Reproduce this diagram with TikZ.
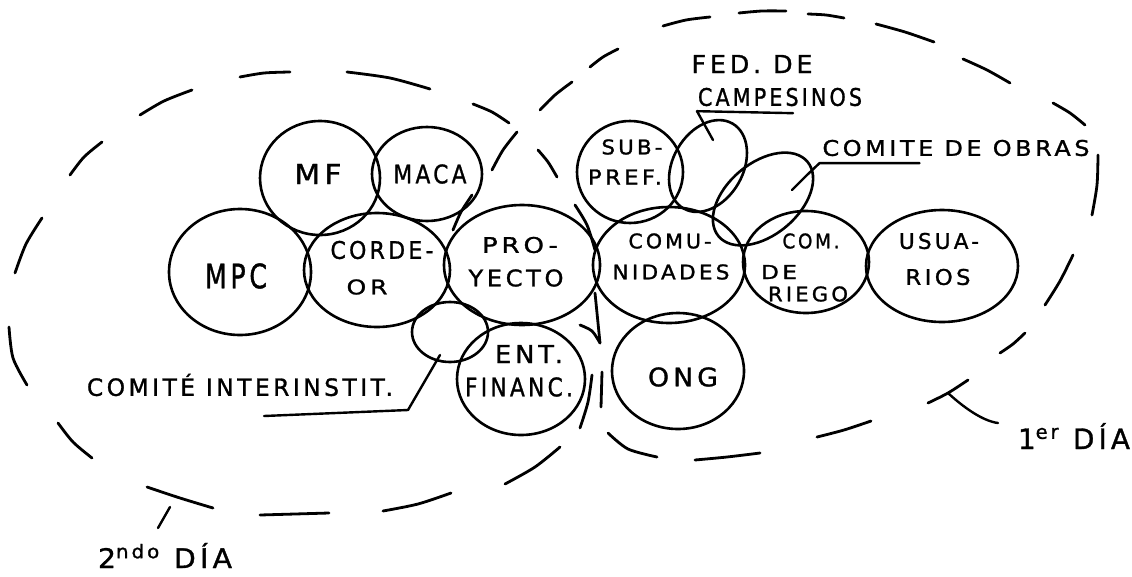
\documentclass[tikz,border=0pt]{standalone}
\usepackage{fontspec}
\setmainfont{DejaVu Sans}
\newfontfamily\hand[LetterSpace=15,FakeBold=1.2]{DejaVu Sans}
\usepackage{graphicx}
\usetikzlibrary{shapes.geometric,calc}
\newcommand\fitt[3]{\resizebox{#1pt}{#2pt}{\hand #3}}
\newcommand\fitw[2]{\resizebox{#1pt}{!}{\hand #2}}
\begin{document}
\begin{tikzpicture}[x=1pt,y=-1pt,
  ring/.style={draw, ellipse, line width=2.6pt, inner sep=0pt, outer sep=0pt},
  dsh/.style={line width=2.8pt, line cap=round},
  lbl/.style={inner sep=0pt, outer sep=0pt},
  lead/.style={line width=2.4pt, line cap=round, line join=round}]
\fill[white] (0,0) rectangle (1132,576);
\useasboundingbox (0,0) rectangle (1132,576);

% ---- circles ----
\node[ring, minimum width=120pt, minimum height=114pt] (mf)   at (320,178) {};
\node[ring, minimum width=110pt, minimum height=94pt]  (maca) at (427,174) {};
\node[ring, minimum width=142pt, minimum height=126pt] (mpc)  at (240,272) {};
\node[ring, minimum width=146pt, minimum height=114pt] (cord) at (377,270) {};
\node[ring, minimum width=156pt, minimum height=120pt] (proy) at (522,265) {};
\node[ring, minimum width=76pt,  minimum height=60pt]  (cint) at (450,332) {};
\node[ring, minimum width=128pt, minimum height=112pt] (ent)  at (521,379) {};
\node[ring, minimum width=152pt, minimum height=116pt] (comu) at (669,265) {};
\node[ring, minimum width=106pt, minimum height=102pt] (subp) at (630,172) {};
\node[ring, minimum width=98pt,  minimum height=70pt, rotate=60] (fed)  at (708,166) {};
\node[ring, minimum width=116pt, minimum height=72pt, rotate=40] (obr)  at (763,199) {};
\node[ring, minimum width=126pt, minimum height=102pt] (rieg) at (806,262) {};
\node[ring, minimum width=152pt, minimum height=112pt] (usu)  at (942,266) {};
\node[ring, minimum width=132pt, minimum height=116pt] (ong)  at (678,371) {};

% ---- labels ----
\node[lbl] (tmf)   at (318,174) {\fitt{47}{20}{MF}};
\node[lbl] (tmaca) at (430,174) {\fitt{73}{19}{MACA}};
\node[lbl] (tmpc)  at (236,276) {\fitt{62}{25}{MPC}};
\node[lbl] (tcor1) at (382,250) {\fitt{103}{18}{CORDE-}};
\node[lbl] (tcor2) at (367,287) {\fitt{41}{15}{OR}};
\node[lbl] (tpro1) at (520,245) {\fitt{76}{16}{PRO-}};
\node[lbl] (tpro2) at (516,278) {\fitt{95}{17}{YECTO}};
\node[lbl] (tent1) at (529,354) {\fitt{68}{18}{ENT.}};
\node[lbl] (tent2) at (519,387) {\fitt{108}{19}{FINANC.}};
\node[lbl] (tcom1) at (670,241) {\fitt{83}{15}{COMU-}};
\node[lbl] (tcom2) at (671,272) {\fitt{117}{15}{NIDADES}};
\node[lbl] (tsub1) at (632,147) {\fitt{61}{15}{SUB-}};
\node[lbl] (tsub2) at (625,177) {\fitt{74}{15}{PREF.}};
\node[lbl] (trie1) at (811,241) {\fitt{57}{15}{COM.}};
\node[lbl] (trie2) at (779,272) {\fitt{36}{14}{DE}};
\node[lbl] (trie3) at (808,294) {\fitt{80}{15}{RIEGO}};
\node[lbl] (tusu1) at (939,241) {\fitt{80}{16}{USUA-}};
\node[lbl] (tusu2) at (938,277) {\fitt{65}{16}{RIOS}};
\node[lbl] (tong)  at (683,377) {\fitt{70}{19}{ONG}};
\node[lbl] (tfed)  at (752,64)  {\fitt{121}{18}{FED. DE}};
\node[lbl] (tcamp) at (780,97)  {\fitt{164}{18}{CAMPESINOS}};
\node[lbl] (tobr)  at (956,148) {\fitt{267}{16}{COMITE DE OBRAS}};
\node[lbl] (tci)   at (240,385) {\fitt{306}{22}{COMITÉ INTERINSTIT.}};
\node[lbl, anchor=base west] (tdos) at (98,568)  {\fitt{134}{25}{2\textsuperscript{ndo} DÍA}};
\node[lbl, anchor=base west] (tuno) at (1018,449) {\fitt{112}{26}{1\textsuperscript{er} DÍA}};

% ---- leaders ----
\coordinate (fedin) at (713,140);
\draw[lead] (fedin) -- ($(tcamp.south west)+(-1,5)$) -- ++(96,2);
\coordinate (obrin) at (792,190);
\draw[lead] (obrin) -- (807,175) -- ($(tobr.south west)+(-3,7)$) -- ++(100,0);
\coordinate (ciin) at (440,355);
\coordinate (ciend) at (264,416);
\draw[lead] (ciin) -- (408,410) -- (ciend);
\coordinate (dosa) at (158,528);
\coordinate (dosb) at (170,507);
\draw[lead] (dosa) -- (dosb);
\coordinate (unoa) at (948,393);
\coordinate (unob) at (998,423);
\draw[lead] (unoa) .. controls (962,406) and (982,421) .. (unob);

% ---- dashed ellipse: 2ndo dia ----
\draw[dsh] plot[smooth] coordinates {(9,327) (13,358) (27,385)};
\draw[dsh] plot[smooth] coordinates {(15,273) (26,244) (42,218)};
\draw[dsh] plot[smooth] coordinates {(70,175) (84,157) (102,142)};
\draw[dsh] plot[smooth] coordinates {(140,115) (164,101) (192,90)};
\draw[dsh] plot[smooth] coordinates {(240,77) (264,73) (290,72)};
\draw[dsh] plot[smooth] coordinates {(347,72) (390,78) (430,89)};
\draw[dsh] plot[smooth] coordinates {(473,104) (492,112) (509,123)};
\draw[dsh] plot[smooth] coordinates {(538,150) (548,162) (557,177)};
\draw[dsh] plot[smooth] coordinates {(575,205) (587,225) (595,250)};
\draw[dsh] (595,293) -- (600,343);
\draw[dsh] plot[smooth] coordinates {(580,325) (592,331) (600,343)};
\draw[dsh] plot[smooth] coordinates {(592,375) (588,402) (580,428)};
\draw[dsh] plot[smooth] coordinates {(560,447) (535,467) (505,484)};
\draw[dsh] plot[smooth] coordinates {(451,493) (418,504) (383,511)};
\draw[dsh] plot[smooth] coordinates {(329,513) (295,514) (260,515)};
\draw[dsh] plot[smooth] coordinates {(213,508) (180,498) (147,487)};
\draw[dsh] plot[smooth] coordinates {(92,458) (73,442) (58,423)};

% ---- dashed ellipse: 1er dia ----
\draw[dsh] plot[smooth] coordinates {(453,230) (461,212) (472,195)};
\draw[dsh] plot[smooth] coordinates {(492,170) (503,150) (517,132)};
\draw[dsh] plot[smooth] coordinates {(540,110) (555,95) (572,82)};
\draw[dsh] plot[smooth] coordinates {(590,67) (603,57) (618,49)};
\draw[dsh] plot[smooth] coordinates {(663,26) (686,20) (710,17)};
\draw[dsh] plot[smooth] coordinates {(739,13) (762,11) (786,11)};
\draw[dsh] plot[smooth] coordinates {(808,14) (826,15) (844,18)};
\draw[dsh] plot[smooth] coordinates {(876,24) (905,32) (934,42)};
\draw[dsh] plot[smooth] coordinates {(963,59) (987,70) (1010,83)};
\draw[dsh] plot[smooth] coordinates {(1053,103) (1070,113) (1085,125)};
\draw[dsh] plot[smooth] coordinates {(1098,155) (1097,185) (1092,215)};
\draw[dsh] plot[smooth] coordinates {(1073,255) (1060,281) (1045,305)};
\draw[dsh] plot[smooth] coordinates {(1025,333) (1013,344) (1000,353)};
\draw[dsh] plot[smooth] coordinates {(968,380) (948,393) (928,403)};
\draw[dsh] plot[smooth] coordinates {(871,421) (844,430) (817,437)};
\draw[dsh] plot[smooth] coordinates {(760,453) (727,457) (695,460)};
\draw[dsh] plot[smooth] coordinates {(608,433) (628,449) (657,457)};
\draw[dsh] (602,372) -- (601,407);
\end{tikzpicture}
\end{document}
